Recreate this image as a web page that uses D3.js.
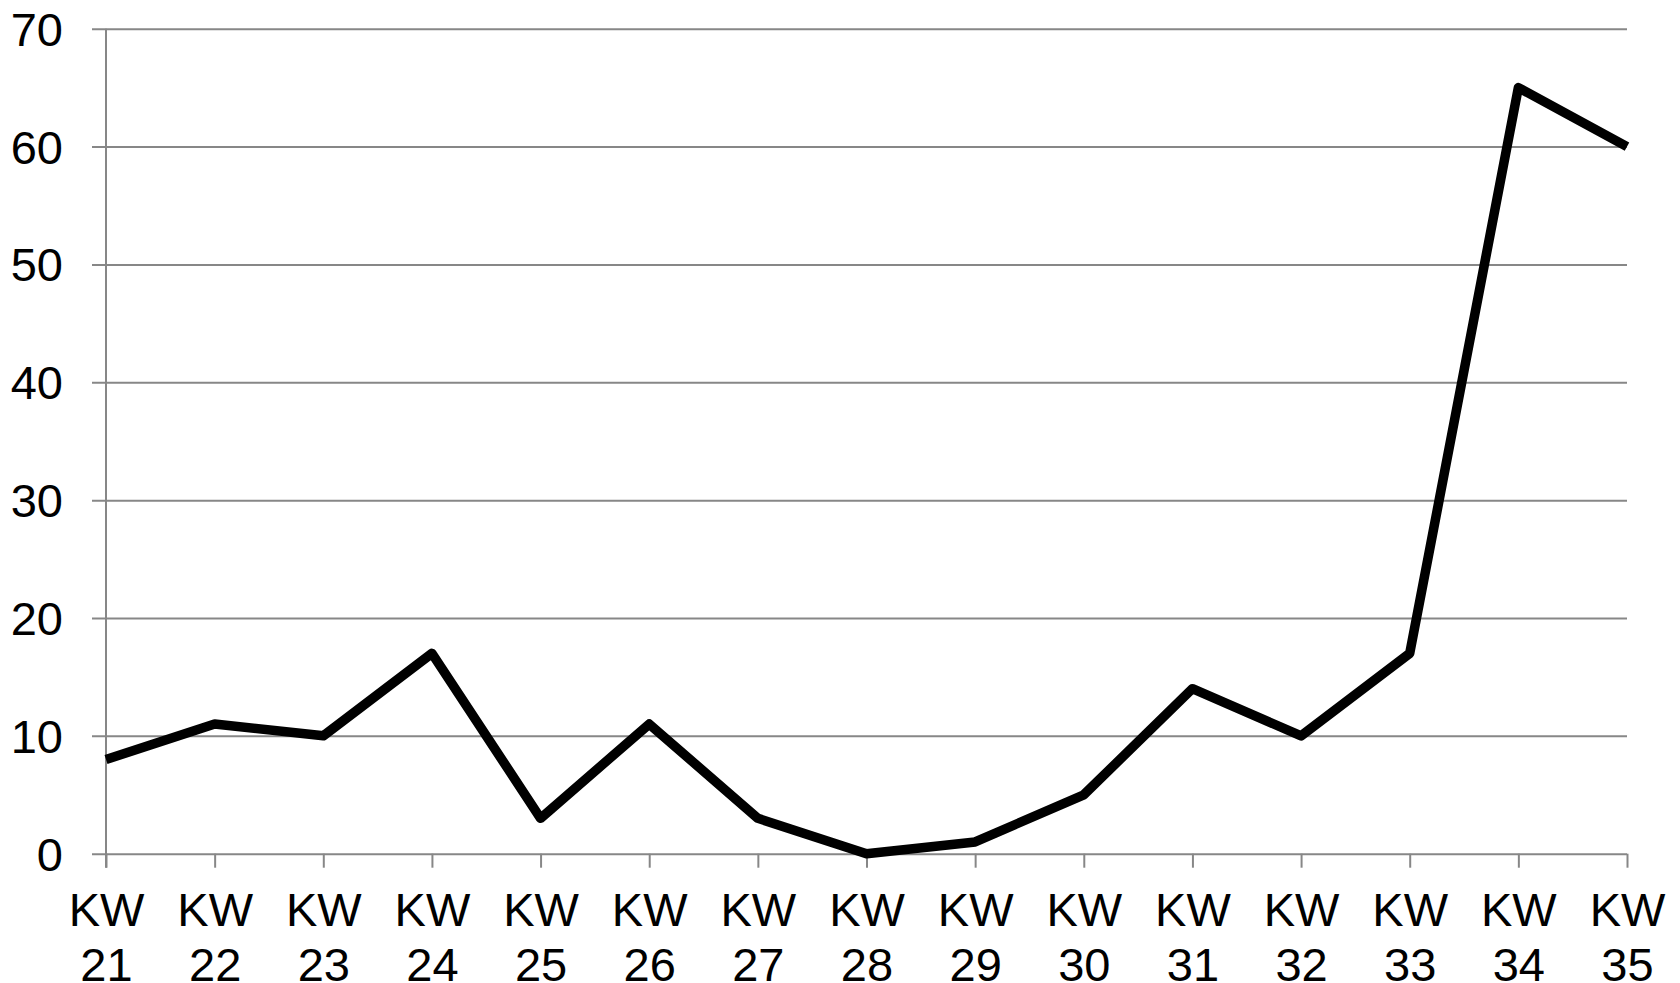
<!DOCTYPE html>
<html><head><meta charset="utf-8">
<script src="https://cdn.jsdelivr.net/npm/d3@7"></script>
<style>
html,body{margin:0;padding:0;background:#fff;}
svg{display:block;font-family:"Liberation Sans",Arial,sans-serif;}
</style></head>
<body>
<svg id="chart" width="1680" height="983"></svg>
<script>
const categories = ["KW 21","KW 22","KW 23","KW 24","KW 25","KW 26","KW 27","KW 28","KW 29","KW 30","KW 31","KW 32","KW 33","KW 34","KW 35"];
const values = [8, 11, 10, 17, 3, 11, 3, 0, 1, 5, 14, 10, 17, 65, 60];
const yTicks = [0, 10, 20, 30, 40, 50, 60, 70];

const svg = d3.select("#chart");
const mLeft = 106, mRight = 1627, mTop = 28.7, mBottom = 853.7;

const x = d3.scalePoint().domain(categories).range([mLeft, mRight]).padding(0);
const y = d3.scaleLinear().domain([0, 70]).range([mBottom, mTop]);

// gridlines + y ticks
const yAxis = d3.axisLeft(y).tickValues(yTicks).tickSize(-(mRight - mLeft)).tickPadding(0).tickFormat(d3.format("d"));
const gy = svg.append("g").attr("transform", `translate(${mLeft},0)`).call(yAxis);
gy.select(".domain").remove();
gy.selectAll(".tick line").attr("x1", -14).attr("stroke", "#878787").attr("stroke-width", 2);
gy.selectAll(".tick text").attr("x", -43).attr("dy", "0.35em").attr("fill", "#000")
  .style("font-size", "47px").style("font-family", "'Liberation Sans', Arial, sans-serif");

// y axis line
svg.append("line").attr("x1", mLeft).attr("x2", mLeft).attr("y1", mTop).attr("y2", mBottom + 14)
  .attr("stroke", "#878787").attr("stroke-width", 2);

// x axis
const xAxis = d3.axisBottom(x).tickSize(14).tickSizeOuter(0).tickFormat("");
const gx = svg.append("g").attr("transform", `translate(0,${mBottom})`).call(xAxis);
gx.select(".domain").remove();
gx.selectAll(".tick line").attr("stroke", "#878787").attr("stroke-width", 2);
gx.selectAll(".tick").each(function(d) {
  const parts = d.split(" ");
  const t = d3.select(this).append("text").attr("fill", "#000").attr("text-anchor", "middle")
    .style("font-size", "47px").style("font-family", "'Liberation Sans', Arial, sans-serif");
  t.append("tspan").attr("x", 0).attr("y", 72).text(parts[0]);
  t.append("tspan").attr("x", 0).attr("y", 127).text(parts[1]);
});

// line
const line = d3.line().x((d, i) => x(categories[i])).y(d => y(d));
svg.append("path").datum(values).attr("d", line).attr("fill", "none")
  .attr("stroke", "#000").attr("stroke-width", 9.5).attr("stroke-linejoin", "round").attr("stroke-linecap", "butt");
</script>
</body></html>
